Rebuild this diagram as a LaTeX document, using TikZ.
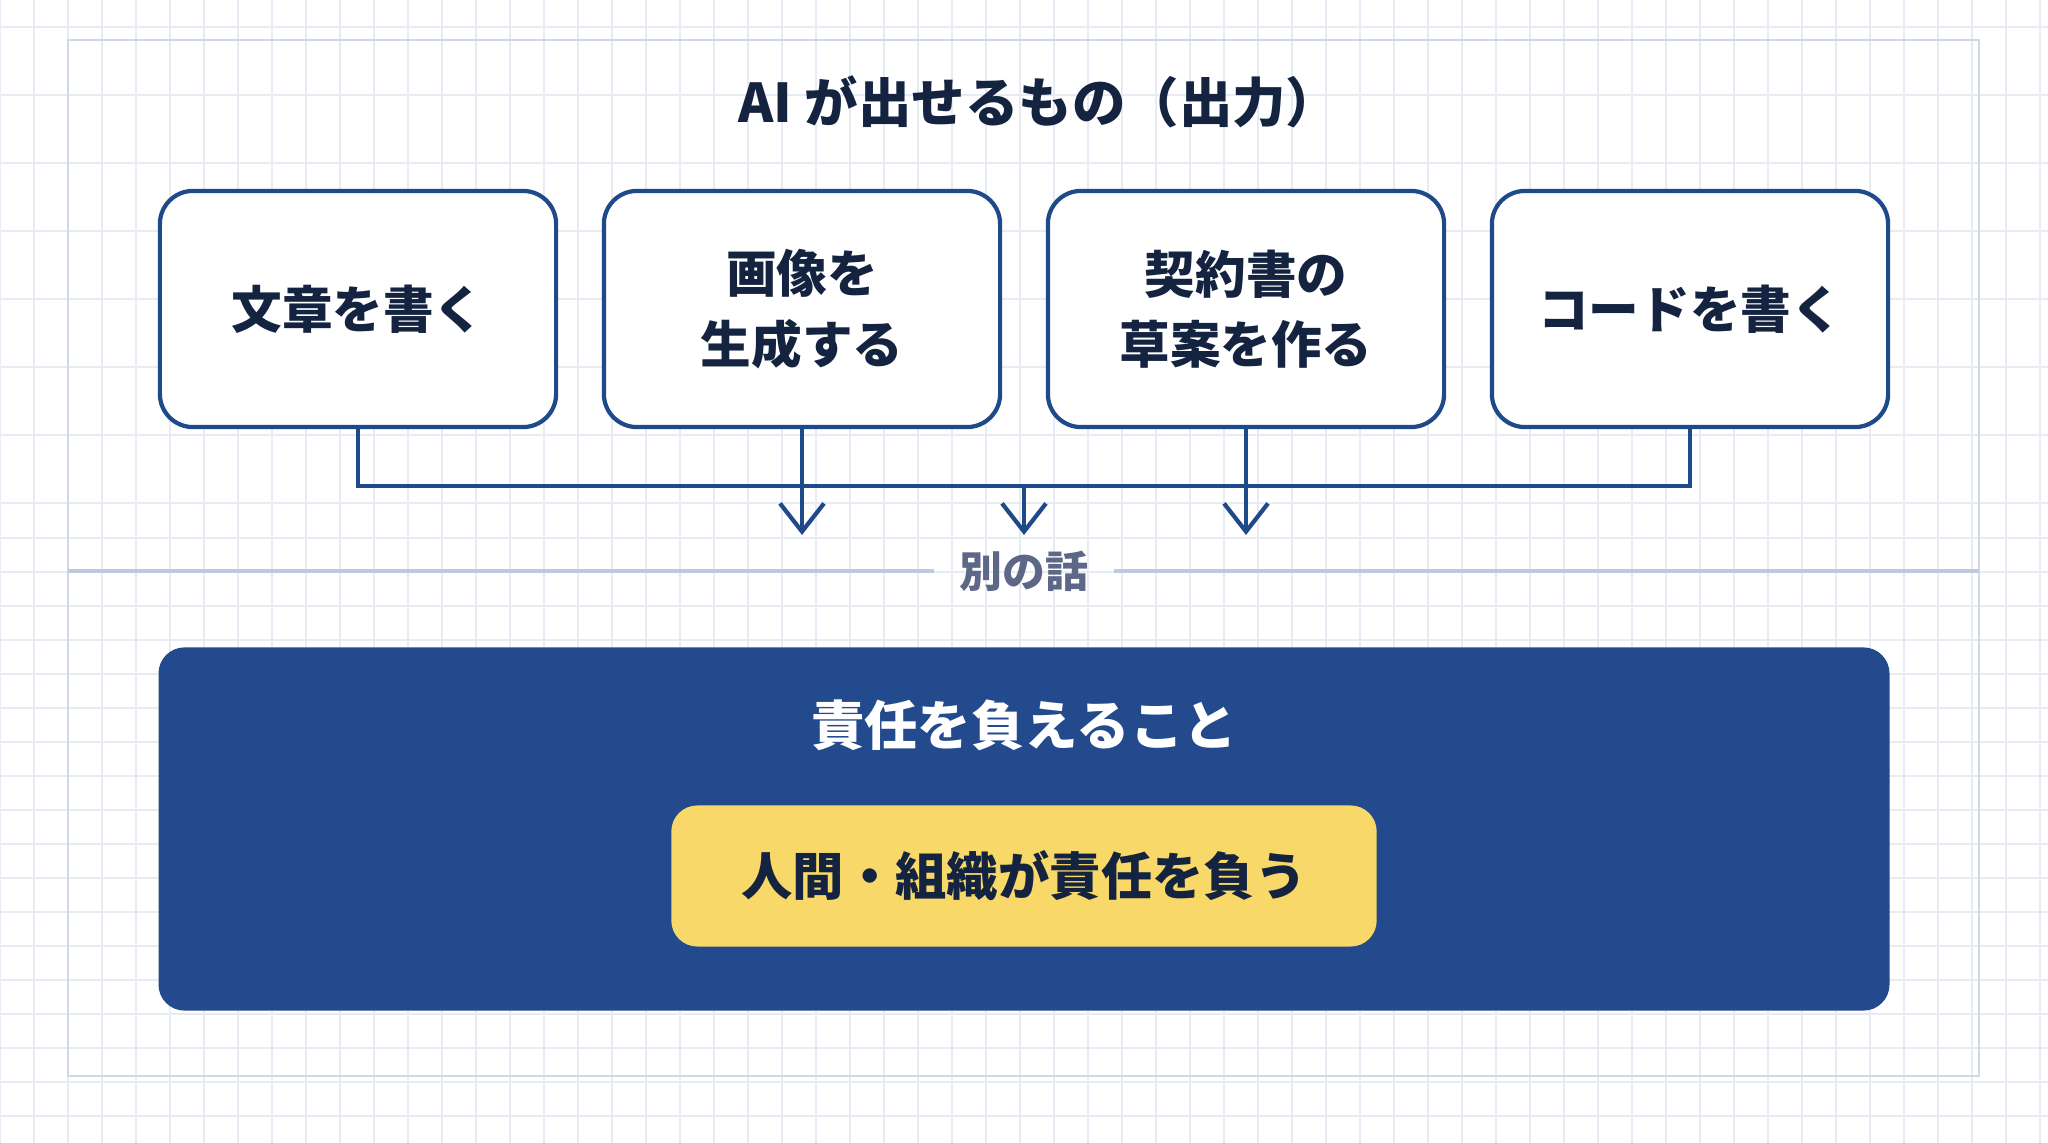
\documentclass[tikz,border=0pt]{standalone}
\usepackage{fontspec}
\setmainfont{Noto Sans CJK JP}
\usetikzlibrary{arrows.meta,positioning}
\definecolor{navy}{HTML}{1F4A8A}
\definecolor{ink}{HTML}{14233F}
\definecolor{deep}{HTML}{224A8D}
\definecolor{gold}{HTML}{F7D868}
\definecolor{mist}{HTML}{BCCADF}
\definecolor{slate}{HTML}{5D6888}
\definecolor{gridc}{HTML}{E7EBF4}
\definecolor{framec}{HTML}{CFD7E8}
\begin{document}
\begin{tikzpicture}[
        x=0.01cm, y=-0.01cm,
        gridln/.style={gridc, line width=0.5pt},
        frame/.style={framec, line width=0.6pt},
        title/.style={text=ink, font=\fontsize{15.2}{18}\selectfont\bfseries},
        outbox/.style={draw=navy, line width=1.2pt, fill=white, rounded corners=0.33cm,
            minimum width=3.96cm, minimum height=2.36cm, align=center, text=ink,
            font=\fontsize{14.4}{20}\selectfont\bfseries},
        ln/.style={navy, line width=1.2pt},
        ar/.style={ln, -{Straight Barb[length=8pt, width=12.5pt, line width=1.2pt]}},
        sep/.style={mist, line width=1.4pt},
        seplabel/.style={text=slate, minimum width=1.79cm, font=\fontsize{12.2}{14}\selectfont\bfseries},
        respbox/.style={fill=deep, rounded corners=0.26cm, minimum width=17.3cm, minimum height=3.63cm},
        resptitle/.style={text=white, font=\fontsize{15.2}{18}\selectfont\bfseries},
        owner/.style={fill=gold, rounded corners=0.26cm, minimum width=7.05cm, minimum height=1.41cm,
            text=ink, font=\fontsize{14.6}{18}\selectfont\bfseries},
    ]
    \useasboundingbox (0,0) rectangle (2048,1143);
    \fill[white] (0,0) rectangle (2048,1143);

    % background grid
    \foreach \gx in {0,34,...,2048} \draw[gridln] (\gx,0) -- (\gx,1143);
    \foreach \gy in {27,95,...,503} \draw[gridln] (0,\gy) -- (2048,\gy);
    \foreach \gy in {538,572,...,1143} \draw[gridln] (0,\gy) -- (2048,\gy);
    \draw[frame] (68,40) rectangle (1979,1076);

    \node[title](head) at (1039,102) {AI が出せるもの（出力）};

    \node[outbox](text) at (358,309) {文章を書く};
    \node[outbox](image) at (802,309) {画像を\\生成する};
    \node[outbox](draft) at (1246,309) {契約書の\\草案を作る};
    \node[outbox](code) at (1690,309) {コードを書く};

    \coordinate (busL) at (text.south |- 0,486);
    \coordinate (busR) at (code.south |- 0,486);
    \coordinate (busM) at (1024,486);
    \coordinate (tipI) at (image.south |- 0,535);
    \coordinate (tipD) at (draft.south |- 0,535);
    \coordinate (tipM) at (1024,535);

    \draw[ln] (text.south) -- (busL) -- (busR) -- (code.south);
    \draw[ar] (image.south) -- (tipI);
    \draw[ar] (draft.south) -- (tipD);
    \draw[ar] (busM) -- (tipM);

    \node[seplabel](other) at (1024,571) {別の話};
    \coordinate (sepL) at (68,571);
    \coordinate (sepR) at (1979,571);
    \draw[sep] (sepL) -- (other.west);
    \draw[sep] (other.east) -- (sepR);

    \node[respbox](resp) at (1024,829) {};
    \node[resptitle](resphead) at (1024,725) {責任を負えること};
    \node[owner](human) at (1024,876) {人間・組織が責任を負う};
\end{tikzpicture}
\end{document}
